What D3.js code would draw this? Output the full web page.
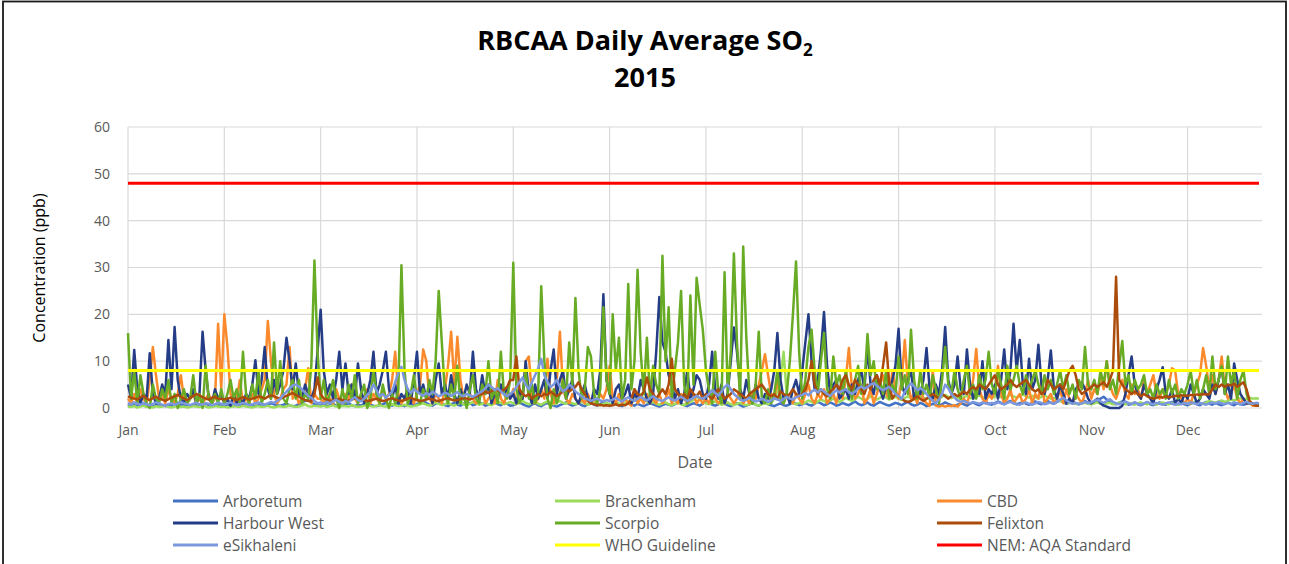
<!DOCTYPE html>
<html>
<head>
<meta charset="utf-8">
<script src="https://cdn.jsdelivr.net/npm/d3@7"></script>
<style>
  body { margin: 0; background: #fff; }
  svg text { font-family: "Open Sans", "Noto Sans", sans-serif; }
</style>
</head>
<body>
<svg id="chart" width="1289" height="564"></svg>
<script>
// daily averages (ppb), 1 Jan .. 31 Dec 2015, one row per 31-day block
const arboretum = [
  0.8,0.5,0.6,0.4,0.7,0.9,0.6,0.5,0.3,0.6, 0.8,0.5,0.4,0.7,0.6,0.9,1.1,0.7,0.5,0.6, 0.4,0.8,0.6,0.5,0.7,0.9,0.6,0.4,0.5,0.7, 0.6,
  0.5,0.8,0.6,0.4,0.7,0.5,0.6,0.9,0.7,0.5, 0.4,0.6,0.8,0.5,0.7,1,0.8,0.6,0.5,0.7, 0.9,0.6,0.4,0.5,0.8,1.2,1.5,1.8,1.2,0.8, 0.6,
  0.5,0.7,0.4,0.6,0.9,0.5,0.3,0.6,0.8,1, 0.6,0.4,0.7,0.5,0.9,1.2,0.7,0.5,0.4,0.6, 0.8,1.1,0.7,0.5,0.8,1,0.6,0.4,0.7,0.9, 0.6,
  0.8,1.2,1.5,1.1,0.7,0.5,0.9,1.3,1,0.6, 0.4,0.8,1.1,0.7,0.5,0.9,1.4,1,0.6,0.8, 1.2,0.9,0.5,0.7,1,1.3,0.8,0.6,1.1,0.9, 0.5,
  0.6,0.9,1.2,0.8,0.5,0.3,0.7,1,0.6,0.4, 0.8,1.1,0.7,0.5,0.3,0.6,0.9,1.2,0.8,0.5, 0.7,1,0.6,0.4,0.8,1.1,0.7,0.5,0.9,1.2, 0.8,
  0.5,0.7,1,0.6,0.4,0.8,1.1,0.7,0.5,0.9, 0.6,0.4,0.7,1,0.8,0.5,0.3,0.6,0.9,0.7, 0.5,0.8,1.2,0.9,0.6,0.4,0.7,1,0.8,0.5, 0.9,
  1.4,1.1,0.7,0.5,0.8,1.2,0.9,0.6,0.4,0.7, 1,0.6,0.3,0.5,0.8,1.1,0.7,0.5,0.9,1.3, 0.8,0.6,0.4,0.7,1,0.6,0.5,0.8,1.2,0.9, 0.6,
  0.8,1.1,0.7,0.5,0.9,1.3,1,0.6,0.8,1.2, 0.9,0.5,0.7,1.1,0.8,0.6,1,1.4,0.9,0.6, 0.8,1.2,0.7,0.5,0.9,1.3,1,0.7,0.5,0.8, 1.1,
  0.9,0.6,1,1.3,0.8,0.5,0.7,1.1,0.8,0.4, 0.6,0.9,0.7,0.5,0.8,1.2,0.9,0.6,0.4,0.7, 1,0.8,0.5,0.9,1.2,0.8,0.6,1,1.3,0.9, 0.7,
  1,1.4,1.1,0.8,1.2,1.5,1.1,0.8,1,1.3, 0.9,0.7,1.1,1.4,1,0.8,1.2,1.5,1.1,0.9, 1.3,1.6,1.2,0.9,1.1,1.4,1,0.8,1.2,1.5, 1.1,
  0.9,1.2,1.6,2,2.4,1.8,1.3,1,0.8,1.1, 1.4,1,0.7,0.9,1.2,0.8,0.6,0.9,1.1,0.8, 0.6,0.9,1.2,0.9,0.7,1,1.3,0.9,0.7,1, 0.8,
  0.6,0.9,1.2,0.8,0.6,1,1.3,0.9,0.7,1.1, 0.8,0.6,0.9,1.2,0.8,0.6,1,0.8,0.7,0.9, 1.1,0.8,0.9,1
];
const brackenham = [
  0.3,0.2,0.4,0.1,0.3,0.5,0.2,0.3,0.1,0.4, 0.2,0.3,0.5,0.2,0.1,0.3,0.4,0.2,0.3,0.1, 0.2,0.4,0.3,0.2,0.5,0.3,0.1,0.2,0.4,0.3, 0.2,
  0.3,0.1,0.2,0.4,0.3,0.2,0.5,0.3,0.2,0.1, 0.3,0.4,0.2,0.3,0.5,0.2,0.1,0.3,0.4,0.2, 0.3,0.6,0.4,0.2,0.3,0.5,0.8,0.4,0.3,0.5, 0.4,
  0.3,0.5,0.2,0.4,0.6,0.3,0.2,0.5,0.4,0.3, 0.6,0.4,0.2,0.3,0.5,0.7,0.4,0.3,0.5,0.6, 0.4,0.3,0.5,0.8,0.6,0.4,0.5,0.7,0.5,0.3, 0.4,
  0.6,0.8,1,0.7,0.5,0.8,1.2,0.9,0.6,0.8, 1.1,0.7,0.5,0.9,1.2,0.8,0.6,0.9,1.3,1, 0.7,0.9,1.2,0.8,0.6,1,1.4,1.1,0.8,1, 1.3,
  1,0.8,1.2,1.5,1.1,0.8,1,1.3,0.9,0.7, 1.1,1.4,1,0.8,1.2,1.5,1.1,0.9,1.3,1, 0.8,1.1,1.4,1,0.7,0.9,1.2,0.8,0.6,0.9, 1.1,
  0.8,1,1.3,0.9,0.7,1,1.4,1.1,1.6,2.2, 3,2,1.4,1,1.3,0.9,0.7,1,1.2,0.8, 0.6,0.9,1.2,0.8,0.6,1,1.3,1.7,2.5,1.8, 1.2,
  1,0.8,1.1,1.4,1,0.7,0.9,1.2,0.8,0.6, 0.9,1.1,0.8,0.6,0.8,1,0.7,0.5,0.8,1.1, 0.8,1.2,2,3.5,6,12,3,1.5,1,0.8, 1.1,
  0.9,1.2,1.6,1.3,1,1.4,1.8,1.5,1.2,1.6, 2,1.7,1.3,1.7,2.2,1.8,1.5,1.9,2.4,2, 1.6,2,2.5,2.1,1.8,2.2,2.6,2.2,1.8,2.1, 2.4,
  2,1.7,2.1,2.5,2.1,1.8,2.2,2.6,2.2,1.9, 2.3,2.7,2.3,2,2.4,2.8,2.4,2.1,2.5,2.2, 1.9,2.3,2.6,2.2,2,2.4,2.7,2.3,2.1,2.5, 2.2,
  2.4,2.7,2.3,2,2.4,2.8,2.5,2.2,2.6,2.9, 2.5,2.2,2.6,2.3,2,2.4,2.7,2.3,2,2.2, 1.8,1.5,1.3,1.1,1,1.2,0.9,0.8,1,1.1, 0.9,
  0.8,1,1.2,0.9,0.7,1,1.1,0.8,0.9,1.2, 1,0.8,1.1,0.9,0.7,1,1.2,0.9,0.8,1.1, 0.9,0.7,1,1.2,0.9,0.8,1.1,0.9,0.7,1, 1.2,
  0.9,1,1.2,1.4,1.1,0.9,1.2,1.5,1.3,1.1, 1.4,1.6,1.3,1.5,1.8,1.6,1.9,2.1,1.8,2, 2.2,2,2.1,2
];
const cbd = [
  2,1,3,1,4,2,1,6,13,7, 2,3,1,4,2,1,3,7,2,1, 2,3,1,2,1,2,3,1,2,18, 4,
  20,13,3,1,2,6,1,2,1,3, 1,2,4,6,18.6,10,3,1,2,4, 5,13,2,3,1,2,4,8.5,1,3, 2,
  2,1,3,2,1,4,2,1,3,2, 5,2,1,3,2,4,1,3,2,1, 4,2,3,6,12,3,1,2,4,2, 1,
  3,5,12.5,10,2,1,3,2,1,4, 9,16.3,5,15.2,6,2,1,3,2,1, 2,4,1,2,3,1,6,2,1,3, 2,
  4,1,3,2,10,11,3,1,2,4, 2,10.5,3,1,6,16.3,4,2,1,3, 2,1,2,1,3,1,2,1,3,2, 4,
  9,2,1,3,1,2,1,0.5,4,1, 2,1,3,1,2,1,3,1,2,4, 1,2,1,3,2,1,2,3,1,2, 1,
  2,1,3,2,1,2,1,3,2,1, 2,4,1,2,1,3,2,5,8,11.5, 7,3,2,6,2,1,3,2,1,3, 2,
  1,3,5,2,1,3,2,4,1,2, 3,1,4,2,6,12.8,4,2,3,5, 1,2,4,1,3,5,7,3,2,8, 4,
  2,6,14.5,5,2,3,1,4,2,1, 0.5,8,0.5,0.3,0.5,0.3,0.5,0.4,0.6,0.3, 1,2,1,3,6,12.6,4,2,1,3, 2,
  4,9,3,1,2,4,1,2,3,1, 2,4,1,3,2,6,1,2,3,1, 2,4,1,4,2,1,3,2,1,3, 6,
  2,4,3,7,4,10,5,3,2,4, 6,3,2,5,3,4,2,6,3,5, 7,3,2,4,3,5,8.5,8,3,2, 1,
  2,1,3,5,7,12.8,9,4,7,3, 6,11,4,2,3,5,2,1,2,1, 1,0.5,0.5,0.5
];
const harbourWest = [
  5,2,12.4,4,1,3,2,11.7,3,1, 2,5,3,14.5,4,17.3,6,2,1,3, 2,4,1,3,16.3,8,2,1,4,2, 3,
  1,2,0.5,3,1,2,1,3,2,5, 10.2,3,6,13,4,2,6,3,5,8, 15,10,4,9.5,3,2,5,3,2,4, 12,
  21,8,3,5,2,6,12,4,9.5,3, 5,2,9.5,4,1,3,6,12,3,5, 8,12,4,2,5,1,3,2,4,1, 6,
  12,3,5,2,4,1,6,9.5,3,5, 2,7,3,1,4,2,5,3,12,4, 2,7,3,5,1,3,2,5,3,4, 2,
  3,1,4,2,10,3,1,5,2,4, 6,2,8,12.5,3,6,8,2,4,6, 2,1,3,5,2,1,4,3,8,24.3, 6,
  3,1,4,5,2,3,5,1,3,2, 6,4,2,1,3,12,23.7,14,12,7, 5,2,4,1,3,8,2,4,7,6, 3,
  2,5,12,4,2,5,1,3,10,17.2, 12,4,2,6,3,1,5,2,1,3, 2,4,8,16,6,2,3,1,4,6, 3,
  8,14,20,10,4,6,12,20.5,9,3, 5,6,2,3,4,2,5,3,6,8, 4,13,5,3,7,4,2,5,3,6, 9,
  16.9,5,3,6,8,2,4,3,6,12.8, 4,2,5,3,8,17.3,6,3,5,11, 4,3,12.5,5,2,4,3,10,2,4, 3,
  5,2,6,12.5,4,8,18,8,14.5,5, 3,10.5,4,6,13.5,5,3,6,12.3,4, 2,5,3,1,2,1,4,5,5.5,4, 2,
  1,1.5,2,1,0.5,0.3,0,0,0,0, 0.5,3,7,11,5,3,2,5,3,2, 1,4,6,8.7,3,2,4,1,2,1, 3,
  2,5,3,1,2,4,3,2,5,3, 6,8.7,3,5,2,9.5,6,3,2,1, 1,1,1,1
];
const scorpio = [
  16,2,8,1,7,3,1,0,5,2, 1,4,2,6,1,3,0,2,4,1, 2,7,1,3,0,9,2,1,3,1, 4,
  1,3,6,2,4,1,12,3,1,5, 2,8,1,3,6,2,14,3,10,2, 1,4,6,2,6,1,3,2,9,31.5, 12,
  2,6,1,3,6,2,0,4,1,5, 2,7,1,3,5,0,2,8,3,1, 5,2,0,3,1,4,30.5,8,1,3, 7,
  2,1,4,2,6,3,10,25,14,3, 1,5,2,9,1,3,0,4,7,2, 1,5,3,10,2,4,1,12,3,2, 6,
  31,4,1,3,8,2,5,1,3,26, 10,2,0,4,1,3,6,2,14,5, 23.5,8,2,4,13,11,3,1,4,21.5, 6,
  3,20,8,15,2,6,26.5,4,10,29.5, 12,3,15,2,9,5,3,32.5,10,21.5, 2,8,14,25,5,1,24,5,27.8,22, 16.7,
  8,4,1,12,3,1,29,3,12,33, 14,2,34.5,15,3,1,5,16.3,2,1, 4,1,3,8,2,1,3,10,20,31.3, 12,
  2,6,13,16.7,8,3,10,16,4,2, 11,5,7,3,8,4,2,6,9,3, 5,15.8,7,10,4,6,3,8,2,5, 3,
  11,4,7,3,16.7,6,2,8,3,5, 2,7,4,1,6,13,5,3,8,4, 2,6,9,3,5,2,7,4,6,12, 5,
  3,8,5,2,9,4,6,9,5,3, 7,4,6,8,5,3,7,4,6,3, 5,8,4,7,3,5,2,6,4,13, 5,
  4,6,3,8,5,10,4,6,3,9, 14.3,5,7,3,6,4,5,7,3,4, 2,5,3,4,2,6,3,5,2,4, 3,
  5,8,3,6,2,4,7,3,11,4, 6,9,3,11,5,8,2,6,8,3, 1,1,1,1
];
const felixton = [
  2.5,2.2,2,1.8,2.3,2.6,2,1.7,2.1,2.4, 2,1.8,1.5,1.9,2.2,2.5,2.8,2.4,2,1.7, 2.1,2.6,3,2.7,2.3,2,1.8,2.2,2.4,2, 1.9,
  1.8,2,2.2,1.9,1.7,2,2.3,2.1,1.8,2, 2.2,2.5,2.3,2,2.4,2.7,2.5,2.2,2,2.3, 2.6,2.9,3.2,2.8,2.4,2,1.7,1.5,1.4,3, 6.5,
  3,2,1.8,1.5,1.6,1.8,2,1.7,1.5,1.6, 1.8,2,2.2,1.9,1.7,1.5,1.6,1.8,2,1.7, 1.5,1.6,1.9,2.1,1.8,1.6,1.5,1.7,2,2.2, 1.9,
  1.7,1.5,1.6,1.8,2,1.8,1.6,1.5,1.7,1.9, 2.1,1.8,1.6,1.7,1.9,2.2,2,1.8,2.1,2.5, 2.8,3,3.5,3.2,3.6,4,3.8,3.4,3.9,4.5, 6,
  6,11,4,3,2.5,3,2,2.5,3,2.5, 3,2.8,3.5,3,2.5,3,3.5,4,3.5,4, 4.5,5.5,4,3,1.5,1,0.8,0.6,0.7,0.5, 0.6,
  0.5,0.6,0.8,0.5,0.7,0.6,1,2,4,3, 2.5,3.5,6.5,4,3,2,3,4,3,5, 10.5,4,3,2,3,2,4,3,2.5,3.5, 2,
  3,2.5,2,3,4,3,2,2.5,3,4, 3.5,3,2.5,2,3,3.5,4,4.5,5,4, 3,2.5,3,2,3.5,3,2.5,3,4,3, 2.5,
  3,4,6,10,5,3,4,3,2.5,3.5, 4,5,4,6,7,5,4,6,5,4, 3,5,4,6,7,5,9,14,5,2, 3,
  2.5,2,1.5,1.3,1.5,2,2.5,2,1.5,2, 2.5,3,2.5,2,3,2.5,2,2.5,3,2.5, 3,3.5,3,4,4.5,4,5,4.5,4,5, 6,
  7,5,4,4.5,5,6,5,4.5,5,5.5, 6,5,4,3.5,4,3,3.5,6,5,4, 4.5,5,4,6,8,9,7,4,3,3.5, 4,
  4.5,5,4.5,5,5.5,4.5,6,8,28,6, 5,4,3.5,3,3.5,3,2.5,3,2.5,2.2, 2,2.2,2.4,2.2,2.5,2.3,2.4,2.6,2.5,2.7, 2.6,
  2.6,2.8,2.7,2.9,2.8,3,2.9,3,4,5, 4.5,5,4.5,5,4.8,5.2,4.5,5,5.5,4, 1.5,0.8,0.5,0.5
];
const eSikhaleni = [
  1,0.8,1.2,0.9,0.7,1.1,0.8,0.6,0.9,1.2, 1,0.7,0.5,0.8,1,0.7,0.9,1.3,1,0.8, 0.6,0.9,1.1,0.8,0.7,1,0.9,0.6,0.8,1.1, 0.9,
  0.7,1,1.2,0.9,0.7,0.8,1.1,0.9,0.6,0.8, 1,1.2,0.9,0.7,1,1.3,1.1,1.5,2,2.8, 3.5,4.2,4.8,5,4.6,4,3.3,2.6,2.2,1.5, 1,
  1.2,0.9,1.3,1,1.4,1.8,1.3,1,1.5,1.2, 1.8,2.3,1.7,1.4,2,2.8,3.5,5,3.8,2.5, 3,2.2,2.8,3.5,5.5,7.5,8.8,6,4,3.2, 4,
  3.5,3,2.6,3.2,2.8,3.5,3,2.5,2.8,3.3, 3,2.6,3,3.4,2.8,2.5,3,2.7,2.4,2.8, 3.2,3.6,4.2,5,4.5,3.8,4.2,3.5,3,2.5, 3,
  3.5,4.5,5.5,6.5,5,4,5.5,7,8.5,10.5, 7,5.5,4.5,5,6,4.5,3.5,4,5,4.5, 3.5,3,2.5,2,1.8,1.5,1.8,2,1.6,1.4, 1.7,
  1.5,1.8,2.2,1.7,1.4,1.9,2.3,1.8,1.5,2, 2.4,1.9,1.6,2.1,2.5,2,1.7,1.5,1.9,2.3, 1.8,1.6,2,2.4,1.9,1.5,1.8,2.2,2.6,2.2, 2,
  2.4,3,3.8,3.2,2.6,3.5,4.5,5,4,3, 2.4,1.8,1.5,1.8,2.2,1.7,1.4,1.6,2,1.7, 1.3,1.6,2.1,1.8,1.5,1.9,2.4,2,1.8,2.3, 2.6,
  2.8,3.2,2.7,3.5,3.9,3.3,4,3.5,3,2.6, 3.2,3.8,3.3,3.7,4,3.4,3,3.5,4.2,4.6, 4.1,4.5,5,5.3,4.8,4.2,3.8,4.2,4.5,3.8, 3,
  2.5,2,3.5,4.5,5.3,4.6,3.8,4.2,3.8,3, 2.2,1.5,1,1.8,3,5,4.2,3,2.2,1.6, 1.3,1.5,1.2,1,1.3,1.1,0.9,1.2,1,0.8, 1.1,
  0.9,1.2,1,0.8,1.1,1.3,1,0.8,0.7,1, 1.2,0.9,0.7,1,1.3,1.1,0.8,1,1.2,0.9, 1.4,1.8,2.2,1.6,1.2,0.9,1.1,0.8,1,1.3, 1,
  1.2,1.5,1.8,1.4,1.1,1.5,1.9,1.3,1,0.8, 1.1,1.4,1,0.8,1.2,0.9,0.7,1,1.3,1, 0.8,1.1,0.9,0.7,1,1.2,0.9,0.7,1,0.8, 1.1,
  0.9,1.2,1,0.8,1.1,0.9,0.7,1,1.2,0.9, 1.3,1,0.8,1.1,0.9,1.2,1,0.8,1.1,1.3, 1,0.9,1.1,1
];

// limits (ppb)
const whoGuideline = 8;
const nemStandard = 48;

// axis labels
const tickDays = [0, 31, 62, 93, 124, 155, 186, 217, 248, 279, 310, 341];
const tickLabels = ["Jan", "Feb", "Mar", "Apr", "May", "Jun", "Jul", "Aug", "Sep", "Oct", "Nov", "Dec"];
const yTicks = [0, 10, 20, 30, 40, 50, 60];

const series = [
    { name: "Arboretum", values: arboretum, color: "#4472c4" },
    { name: "Brackenham", values: brackenham, color: "#9bdc5a" },
    { name: "CBD", values: cbd, color: "#fb8a2c" },
    { name: "Harbour West", values: harbourWest, color: "#253d86" },
    { name: "Scorpio", values: scorpio, color: "#68ab25" },
    { name: "Felixton", values: felixton, color: "#ab4c0b" },
    { name: "eSikhaleni", values: eSikhaleni, color: "#7b97dd" }
];
const limits = [
    { name: "WHO Guideline", value: whoGuideline, color: "#ffff00" },
    { name: "NEM: AQA Standard", value: nemStandard, color: "#ff0000" }
];

series.forEach(s => {
    if (s.values.length !== 365) throw new Error(s.name + " has " + s.values.length + " values");
});

const svg = d3.select("#chart");
const plot = { left: 128, right: 1259, top: 127, bottom: 408 };

const x = d3.scaleLinear().domain([0, 364]).range([plot.left, plot.right]);
const y = d3.scaleLinear().domain([0, 60]).range([plot.bottom, plot.top]);

// frame
svg.append("rect")
    .attr("x", 3).attr("y", 1.5)
    .attr("width", 1283).attr("height", 600)
    .attr("fill", "none")
    .attr("stroke", "#1a1a1a")
    .attr("stroke-width", 1.8);

// title
const title = svg.append("text")
    .attr("x", 645).attr("y", 50)
    .attr("text-anchor", "middle")
    .style("font-size", "27px")
    .style("font-weight", "bold")
    .style("fill", "#000");
title.append("tspan").text("RBCAA Daily Average SO");
title.append("tspan").attr("dy", 6).style("font-size", "17px").text("2");
svg.append("text")
    .attr("x", 645).attr("y", 87)
    .attr("text-anchor", "middle")
    .style("font-size", "27px")
    .style("font-weight", "bold")
    .style("fill", "#000")
    .text("2015");

// gridlines
svg.append("g")
    .selectAll("line")
    .data(yTicks)
    .enter()
    .append("line")
    .attr("x1", plot.left).attr("x2", plot.right + 3)
    .attr("y1", d => y(d)).attr("y2", d => y(d))
    .attr("stroke", "#d9d9d9")
    .attr("stroke-width", 1.2);

svg.append("g")
    .selectAll("line")
    .data(tickDays)
    .enter()
    .append("line")
    .attr("x1", d => x(d)).attr("x2", d => x(d))
    .attr("y1", plot.top).attr("y2", plot.bottom)
    .attr("stroke", "#d9d9d9")
    .attr("stroke-width", 1.2);

// axes
const yAxis = svg.append("g")
    .attr("transform", `translate(${plot.left - 18},0)`)
    .call(d3.axisLeft(y).tickValues(yTicks).tickSize(0).tickPadding(0));
yAxis.select(".domain").remove();
yAxis.selectAll("text")
    .style("font-size", "14px")
    .style("fill", "#595959");

const xAxis = svg.append("g")
    .attr("transform", `translate(0,${plot.bottom})`)
    .call(d3.axisBottom(x).tickValues(tickDays).tickSize(0).tickPadding(17)
        .tickFormat((d, i) => tickLabels[i]));
xAxis.select(".domain").remove();
xAxis.selectAll("text")
    .style("font-size", "14px")
    .style("fill", "#595959");

svg.append("text")
    .attr("x", 695).attr("y", 468)
    .attr("text-anchor", "middle")
    .style("font-size", "16px")
    .style("fill", "#595959")
    .text("Date");

svg.append("text")
    .attr("transform", "translate(45,268) rotate(-90)")
    .attr("text-anchor", "middle")
    .style("font-size", "16px")
    .style("fill", "#000")
    .text("Concentration (ppb)");

// series lines
const line = d3.line()
    .x((d, i) => x(i))
    .y(d => y(d));

svg.append("g")
    .selectAll("path")
    .data(series)
    .enter()
    .append("path")
    .attr("d", d => line(d.values))
    .attr("fill", "none")
    .attr("stroke", d => d.color)
    .attr("stroke-width", 2.5)
    .attr("stroke-linejoin", "round");

// guideline / standard
svg.append("g")
    .selectAll("line")
    .data(limits)
    .enter()
    .append("line")
    .attr("x1", x(0)).attr("x2", x(364))
    .attr("y1", d => y(d.value)).attr("y2", d => y(d.value))
    .attr("stroke", d => d.color)
    .attr("stroke-width", 3);

// legend
const legendItems = series.map(s => ({ name: s.name, color: s.color })).concat(limits);
const legendCols = [173, 555, 937];
const legendRows = [501, 523, 545];

const legend = svg.append("g")
    .selectAll("g")
    .data(legendItems)
    .enter()
    .append("g")
    .attr("transform", (d, i) => `translate(${legendCols[i % 3]},${legendRows[Math.floor(i / 3)]})`);

legend.append("line")
    .attr("x1", 0).attr("x2", 45)
    .attr("stroke", d => d.color)
    .attr("stroke-width", 3);

legend.append("text")
    .attr("x", 50).attr("y", 5.5)
    .style("font-size", "15.5px")
    .style("fill", "#595959")
    .text(d => d.name);
</script>
</body>
</html>
